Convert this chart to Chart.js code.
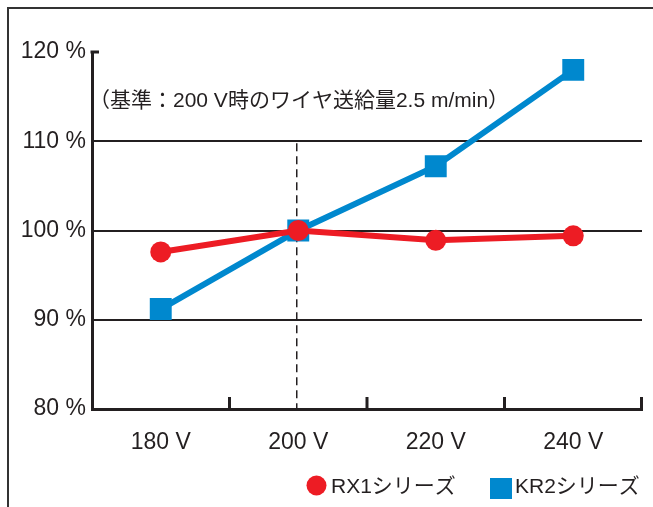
<!DOCTYPE html>
<html>
<head>
<meta charset="utf-8">
<script src="https://cdn.jsdelivr.net/npm/chart.js@4/dist/chart.umd.min.js"></script>
<style>
  html, body { margin: 0; padding: 0; background: #ffffff; }
  #wrap { width: 653px; height: 507px; position: relative; }
</style>
</head>
<body>
<div id="wrap"><canvas id="c" width="653" height="507"></canvas></div>
<script>
// ---- data ----
const categories = ['180 V', '200 V', '220 V', '240 V'];
const rx1Values = [97.6, 100.0, 98.9, 99.4];
const kr2Values = [91.2, 100.0, 107.2, 118.0];
const seriesNames = ['RX1シリーズ', 'KR2シリーズ'];
const yTickValues = [80, 90, 100, 110, 120];
const yTickSuffix = ' %';
const noteText = '（基準：200 V時のワイヤ送給量2.5 m/min）';
const referenceCategory = '200 V';
const referenceLineTop = 110;

const INK = '#231f20';
const RED = '#ed1c24';
const BLUE = '#0088ce';
const FONT = '"Liberation Sans", "Noto Sans CJK JP", sans-serif';

const decor = {
  id: 'decor',
  beforeDraw(chart) {
    const ctx = chart.ctx;
    ctx.save();
    ctx.fillStyle = '#ffffff';
    ctx.fillRect(0, 0, chart.width, chart.height);
    // frame
    ctx.strokeStyle = '#333333';
    ctx.lineWidth = 2;
    ctx.beginPath();
    ctx.moveTo(8, 507);
    ctx.lineTo(8, 8);
    ctx.lineTo(653, 8);
    ctx.stroke();
    ctx.restore();
  },
  beforeDatasetsDraw(chart) {
    const ctx = chart.ctx;
    const x = chart.scales.x, y = chart.scales.y;
    const area = chart.chartArea;
    ctx.save();
    // dashed reference line at 200 V
    const rx = x.getPixelForValue(categories.indexOf(referenceCategory)) - 1.5;
    ctx.strokeStyle = INK;
    ctx.lineWidth = 1.5;
    ctx.setLineDash([8, 5]);
    ctx.beginPath();
    ctx.moveTo(rx, y.getPixelForValue(referenceLineTop) + 2);
    ctx.lineTo(rx, area.bottom);
    ctx.stroke();
    ctx.setLineDash([]);
    // category boundary ticks (pointing upward)
    ctx.lineWidth = 3;
    for (let i = 0; i < categories.length; i++) {
      const bx = i < categories.length - 1
        ? (x.getPixelForValue(i) + x.getPixelForValue(i + 1)) / 2
        : area.right - 0.5;
      ctx.beginPath();
      ctx.moveTo(bx, area.bottom);
      ctx.lineTo(bx, area.bottom - 12);
      ctx.stroke();
    }
    // small top tick of the y axis
    const ty = y.getPixelForValue(yTickValues[yTickValues.length - 1]);
    ctx.beginPath();
    ctx.moveTo(area.left - 1.5, ty);
    ctx.lineTo(area.left + 7, ty);
    ctx.stroke();
    // note text
    ctx.fillStyle = INK;
    ctx.font = '21px ' + FONT;
    ctx.textBaseline = 'middle';
    ctx.textAlign = 'left';
    ctx.fillText(noteText, 89, 101);
    ctx.restore();
  },
  afterDraw(chart) {
    // legend
    const ctx = chart.ctx;
    const ds = chart.data.datasets;
    ctx.save();
    ctx.font = '21px ' + FONT;
    ctx.textBaseline = 'middle';
    ctx.textAlign = 'left';
    ctx.fillStyle = ds[0].backgroundColor;
    ctx.beginPath();
    ctx.arc(316.5, 485.5, 10, 0, Math.PI * 2);
    ctx.fill();
    ctx.fillStyle = INK;
    ctx.fillText(ds[0].label, 331, 487);
    ctx.fillStyle = ds[1].backgroundColor;
    ctx.fillRect(490, 478, 22, 21);
    ctx.fillStyle = INK;
    ctx.fillText(ds[1].label, 515, 487);
    ctx.restore();
  }
};

new Chart(document.getElementById('c'), {
  type: 'line',
  data: {
    labels: categories,
    datasets: [
      { label: seriesNames[0], data: rx1Values, borderColor: RED, backgroundColor: RED, borderWidth: 6,
        pointStyle: 'circle', pointRadius: 10.5, pointHoverRadius: 10.5, pointBorderWidth: 0, tension: 0 },
      { label: seriesNames[1], data: kr2Values, borderColor: BLUE, backgroundColor: BLUE, borderWidth: 6,
        pointStyle: 'rect', pointRadius: 15.5, pointHoverRadius: 15.5, pointBorderWidth: 0, tension: 0 }
    ]
  },
  options: {
    responsive: false,
    animation: false,
    devicePixelRatio: 1,
    layout: { autoPadding: false, padding: { left: 0, right: 11, top: 52, bottom: 52 } },
    plugins: { legend: { display: false }, tooltip: { enabled: false }, title: { display: false } },
    scales: {
      x: {
        type: 'category', offset: true,
        grid: { display: false, drawTicks: false },
        border: { display: true, color: INK, width: 3 },
        ticks: { color: INK, font: { family: FONT, size: 23 }, padding: 20, maxRotation: 0 },
        afterFit(scale) { scale.height = 46; scale.paddingLeft = 0; scale.paddingRight = 0; }
      },
      y: {
        min: yTickValues[0], max: yTickValues[yTickValues.length - 1],
        afterBuildTicks(scale) { scale.ticks = yTickValues.map(v => ({ value: v })); },
        grid: { drawTicks: false, lineWidth: 2,
          color(ctx) { const v = ctx.tick && ctx.tick.value;
            return (v === yTickValues[0] || v === yTickValues[yTickValues.length - 1]) ? 'rgba(0,0,0,0)' : INK; } },
        border: { display: true, color: INK, width: 3 },
        ticks: { color: INK, font: { family: FONT, size: 23 }, padding: 6, callback: v => v + yTickSuffix },
        afterFit(scale) { scale.width = 92; scale.paddingTop = 0; scale.paddingBottom = 0; }
      }
    }
  },
  plugins: [decor]
});
</script>
</body>
</html>
